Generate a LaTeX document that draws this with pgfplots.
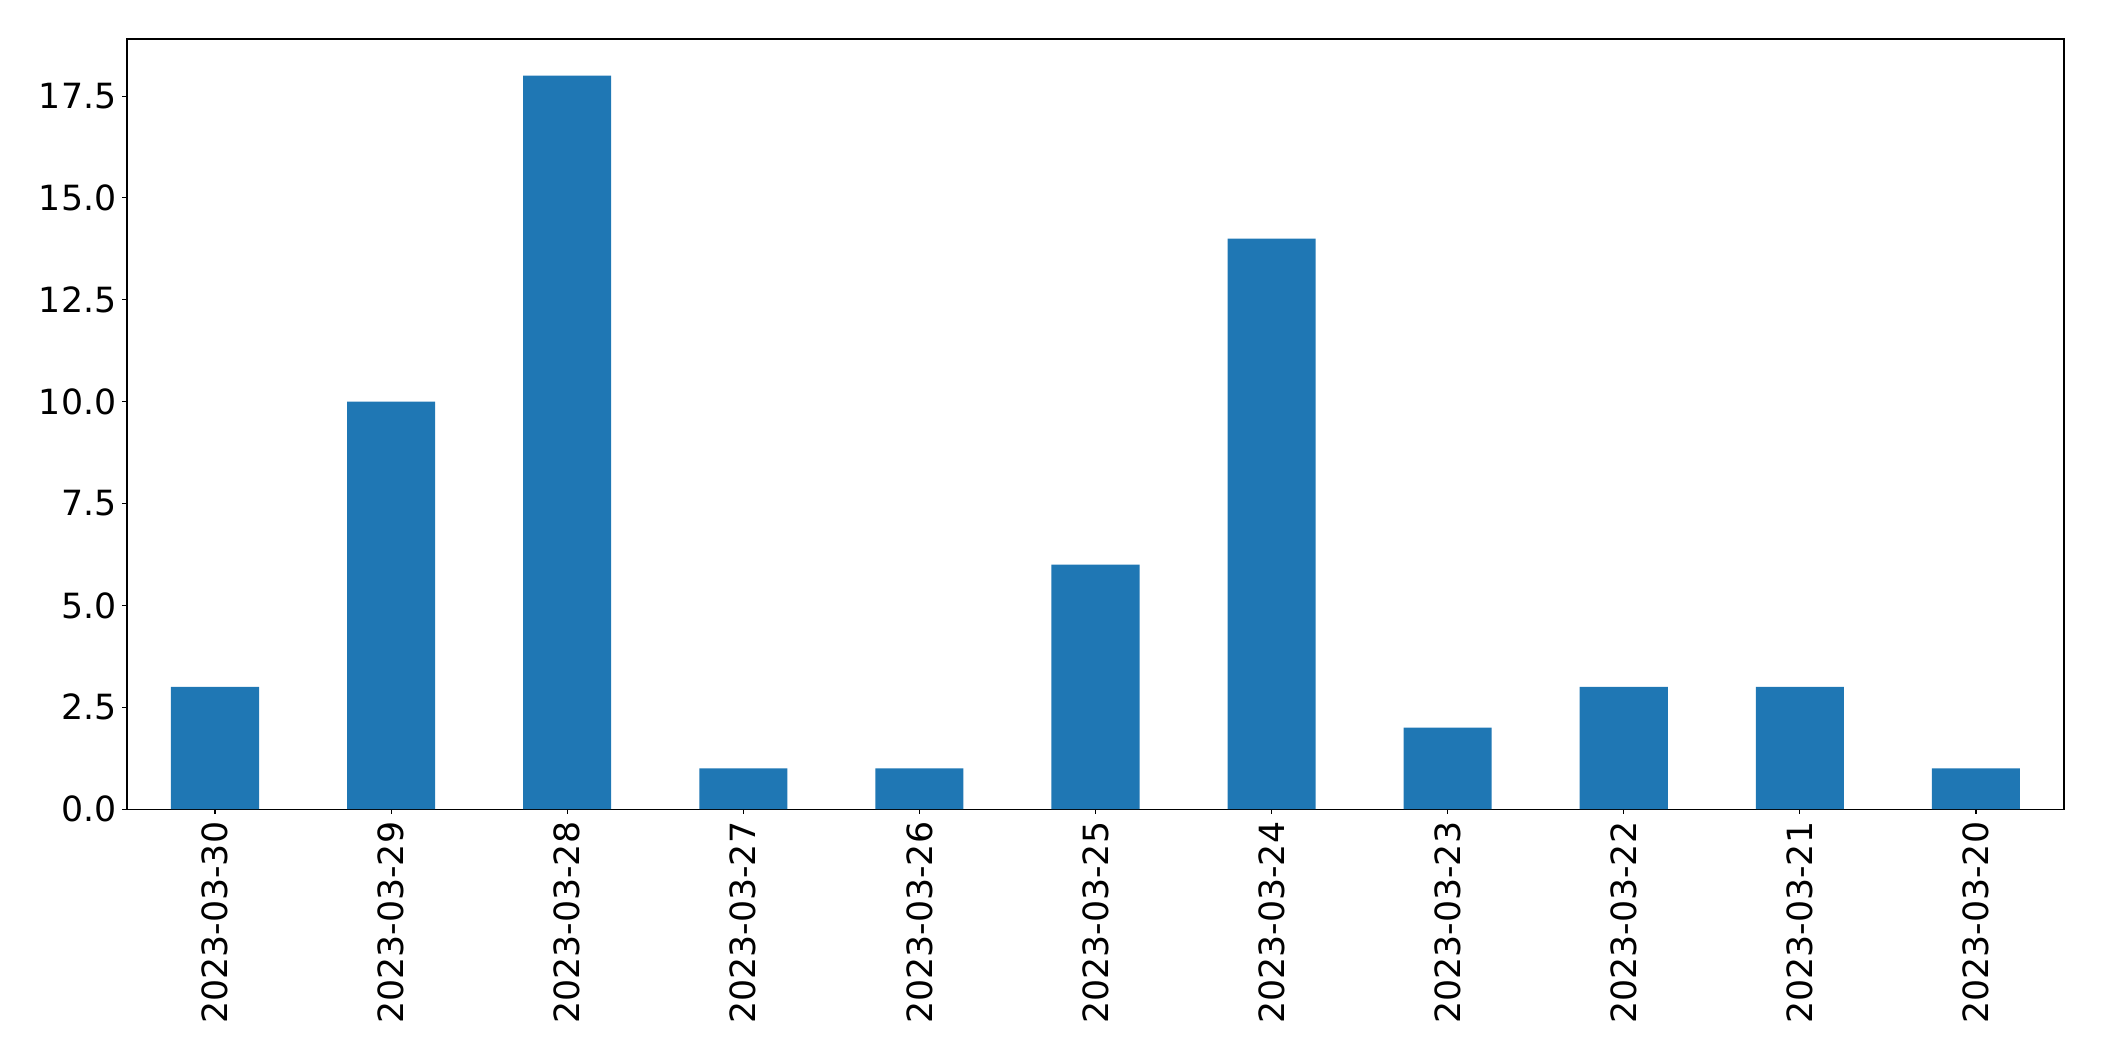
\documentclass[border=0pt]{standalone}
\usepackage{pgfplots}
\pgfplotsset{compat=1.18}
\usepackage{fontspec}
\setmainfont{DejaVu Sans}
\definecolor{mplblue}{HTML}{1F77B4}
\begin{document}
\begin{tikzpicture}
\begin{axis}[
  at={(0,0)}, anchor=south west,
  scale only axis,
  width=1394.6pt, height=554.4pt,
  xmin=-0.5, xmax=10.5,
  ymin=0, ymax=18.9,
  xtick={0,...,10},
  xticklabels={2023-03-30,2023-03-29,2023-03-28,2023-03-27,2023-03-26,2023-03-25,2023-03-24,2023-03-23,2023-03-22,2023-03-21,2023-03-20},
  ytick={0,2.5,5,7.5,10,12.5,15,17.5},
  yticklabel style={/pgf/number format/fixed,/pgf/number format/fixed zerofill,/pgf/number format/precision=1},
  /pgf/number format/assume math mode=true,
  tick label style={font=\fontsize{25}{30}\selectfont},
  xticklabel style={rotate=90, anchor=east, inner sep=0pt, xshift=-5.5pt},
  yticklabel style={inner sep=0pt, xshift=-4pt},
  tick align=outside, tick pos=left,
  major tick length=3.5pt,
  tick style={line width=0.8pt, black},
  axis line style={line width=0.8pt},
]
\addplot[ybar, bar width=0.5, fill=mplblue, draw=none] coordinates {
(0,3) (1,10) (2,18) (3,1) (4,1) (5,6) (6,14) (7,2) (8,3) (9,3) (10,1)
};
\end{axis}
\path[use as bounding box] (-91.4pt,-181.4pt) rectangle (1423.4pt,582.5pt);
\end{tikzpicture}
\end{document}
